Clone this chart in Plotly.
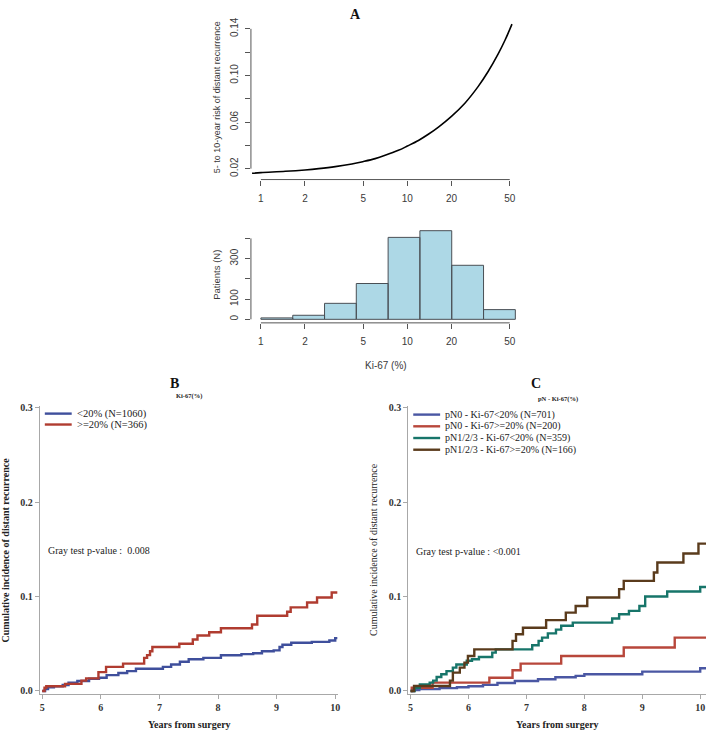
import plotly.graph_objects as go
import math

W, H = 709, 732

# ---------------- Panel A data ----------------
ki67_curve = [0.87, 1.0, 1.47, 2.0, 2.48, 3.22, 4.18, 4.96, 6.03, 7.05, 8.68, 10.0,
              11.9, 13.9, 16.3, 20.0, 24.7, 30.4, 35.6, 41.6, 46.4, 51.8]
risk_curve = [0.0160, 0.0166, 0.0177, 0.0189, 0.0200, 0.0217, 0.0240, 0.0260, 0.0286,
              0.0314, 0.0357, 0.0394, 0.0442, 0.0495, 0.0557, 0.0649, 0.0762, 0.0904,
              0.1034, 0.1183, 0.1302, 0.1440]
curve_xticks = [1, 2, 5, 10, 20, 50]
curve_yticks = [0.02, 0.04, 0.06, 0.08, 0.10, 0.12, 0.14]
curve_ytext = ["0.02", "", "0.06", "", "0.10", "", "0.14"]

hist_edges = [1.0, 1.65, 2.72, 4.48, 7.39, 12.18, 20.09, 33.12, 54.6]
hist_counts = [7, 20, 79, 177, 405, 438, 267, 48]
hist_yticks = [0, 100, 200, 300, 400]
hist_ytext = ["0", "100", "", "300", ""]

# ---------------- Panel B data ----------------
b_labels = ["<20% (N=1060)", ">=20% (N=366)"]
b_blue_t = [5.0, 5.05, 5.1, 5.2, 5.35, 5.45, 5.6, 5.8, 5.97, 6.1, 6.3, 6.45, 6.6, 7.06, 7.2,
            7.35, 7.5, 7.75, 8.05, 8.4, 8.6, 8.75, 8.95, 9.05, 9.1, 9.25, 9.6, 9.9, 10.0, 10.04]
b_blue_v = [0.0, 0.002, 0.004, 0.005, 0.0063, 0.0087, 0.0105, 0.013, 0.014, 0.0168, 0.019,
            0.021, 0.0235, 0.0255, 0.028, 0.031, 0.0336, 0.035, 0.0378, 0.039, 0.040, 0.042,
            0.043, 0.0465, 0.049, 0.051, 0.052, 0.0535, 0.056, 0.056]
b_red_t = [5.0, 5.04, 5.07, 5.39, 5.67, 5.75, 5.96, 6.09, 6.38, 6.74, 6.79, 6.84, 6.88, 7.34,
           7.57, 7.65, 7.85, 8.05, 8.58, 8.67, 9.18, 9.24, 9.52, 9.69, 9.94, 10.04]
b_red_v = [0.0, 0.0035, 0.005, 0.0075, 0.011, 0.0133, 0.02, 0.0255, 0.029, 0.035, 0.038,
           0.042, 0.0465, 0.05, 0.0545, 0.0587, 0.0622, 0.0664, 0.0703, 0.0797, 0.0839,
           0.0885, 0.0937, 0.099, 0.1042, 0.1042]

# ---------------- Panel C data ----------------
c_labels = ["pN0 - Ki-67<20% (N=701)", "pN0 - Ki-67>=20% (N=200)",
            "pN1/2/3 - Ki-67<20% (N=359)", "pN1/2/3 - Ki-67>=20% (N=166)"]
c_blue_t = [5.0, 5.05, 5.15, 5.5, 5.8, 6.0, 6.25, 6.5, 6.8, 7.2, 7.5, 7.85, 8.0, 9.0, 10.0, 10.1]
c_blue_v = [0.0, 0.001, 0.002, 0.003, 0.004, 0.005, 0.0065, 0.0085, 0.0105, 0.0125, 0.0145,
            0.016, 0.0177, 0.0205, 0.024, 0.024]
c_red_t = [5.0, 5.02, 5.38, 6.36, 6.76, 6.9, 7.6, 8.68, 9.56, 10.1]
c_red_v = [0.0, 0.0035, 0.0088, 0.014, 0.022, 0.029, 0.037, 0.046, 0.0565, 0.0565]
c_teal_t = [5.0, 5.07, 5.16, 5.33, 5.39, 5.45, 5.53, 5.62, 5.73, 5.79, 5.97, 6.06, 6.18,
            6.41, 6.47, 7.1, 7.21, 7.27, 7.37, 7.51, 7.6, 7.8, 8.48, 8.6, 8.77, 8.95, 9.05,
            9.43, 10.0, 10.1]
c_teal_v = [0.0, 0.0035, 0.007, 0.0088, 0.011, 0.0148, 0.0177, 0.021, 0.0247, 0.028, 0.032,
            0.0336, 0.036, 0.0406, 0.044, 0.0484, 0.053, 0.0565, 0.061, 0.065, 0.069, 0.0724,
            0.0767, 0.0813, 0.0848, 0.09, 0.1, 0.1053, 0.110, 0.110]
c_brown_t = [5.0, 5.06, 5.68, 5.73, 5.85, 5.93, 5.99, 6.1, 6.76, 6.82, 6.94, 7.34, 7.68,
             7.85, 8.05, 8.6, 8.68, 9.2, 9.26, 9.71, 9.97, 10.1]
c_brown_v = [0.0, 0.0053, 0.011, 0.0194, 0.0247, 0.03, 0.037, 0.044, 0.053, 0.06, 0.067,
             0.075, 0.083, 0.09, 0.099, 0.1078, 0.1166, 0.1254, 0.136, 0.1456, 0.156, 0.156]

km_ticks = [5, 6, 7, 8, 9, 10]
km_yticks = [0.0, 0.1, 0.2, 0.3]
km_ytext = ["0.0", "0.1", "0.2", "0.3"]

# ---------------- styles ----------------
SANS = "Liberation Sans, Arial, sans-serif"
SERIF = "Liberation Serif, Times New Roman, serif"
A_TXT = "#3a3a3a"
A_AX = "#555555"
KM_AX = "#a8a8a8"
KM_TXT = "#333333"
B_COLORS = ["#3f4f9c", "#b03c30"]
C_COLORS = ["#4a57a3", "#b8473b", "#17756a", "#5a3b1c"]


def fx(p):
    return p / W


def fy(p):
    return 1 - p / H


fig = go.Figure()

# Panel A curve
fig.add_trace(go.Scatter(x=ki67_curve, y=risk_curve, mode="lines",
                         line=dict(color="black", width=1.6, shape="spline", smoothing=1.0),
                         xaxis="x", yaxis="y", showlegend=False, hoverinfo="skip"))

# Histogram as polygons
hx, hy = [], []
for i, c in enumerate(hist_counts):
    x0, x1 = hist_edges[i], hist_edges[i + 1]
    hx += [x0, x0, x1, x1, x0, None]
    hy += [0, c, c, 0, 0, None]
fig.add_trace(go.Scatter(x=hx, y=hy, mode="lines", fill="toself", fillcolor="#add8e6",
                         line=dict(color="#4a4f55", width=1), xaxis="x2", yaxis="y2",
                         showlegend=False, hoverinfo="skip"))

# Panel B
for t, v, col in [(b_blue_t, b_blue_v, B_COLORS[0]), (b_red_t, b_red_v, B_COLORS[1])]:
    fig.add_trace(go.Scatter(x=t, y=v, mode="lines", line=dict(color=col, width=2.4, shape="hv"),
                             xaxis="x3", yaxis="y3", showlegend=False, hoverinfo="skip"))
# Panel C
for t, v, col in [(c_blue_t, c_blue_v, C_COLORS[0]), (c_red_t, c_red_v, C_COLORS[1]),
                  (c_teal_t, c_teal_v, C_COLORS[2]), (c_brown_t, c_brown_v, C_COLORS[3])]:
    fig.add_trace(go.Scatter(x=t, y=v, mode="lines", line=dict(color=col, width=2.4, shape="hv"),
                             xaxis="x4", yaxis="y4", showlegend=False, hoverinfo="skip"))

LOGR = [-0.068, 1.788]


def a_xaxis(dom, anchor):
    return dict(domain=dom, type="log", range=LOGR, anchor=anchor, showgrid=False,
                zeroline=False, showline=False, ticks="outside", ticklen=5, tickwidth=1,
                tickcolor=A_AX, tickvals=curve_xticks, ticktext=[str(v) for v in curve_xticks],
                tickfont=dict(family=SANS, size=10, color=A_TXT), ticklabelstandoff=4)


def a_yaxis(dom, anchor, rng, vals, text):
    return dict(domain=dom, range=rng, anchor=anchor, showgrid=False, zeroline=False,
                showline=False, ticks="outside", ticklen=5, tickwidth=1, tickcolor=A_AX,
                tickvals=vals, ticktext=text, tickangle=-90,
                tickfont=dict(family=SANS, size=10, color=A_TXT), ticklabelstandoff=3)


def km_xaxis(dom, anchor, rng):
    return dict(domain=dom, range=rng, anchor=anchor, showgrid=False, zeroline=False,
                showline=True, linecolor=KM_AX, linewidth=1, ticks="outside", ticklen=4,
                tickcolor=KM_AX, tickvals=km_ticks,
                tickfont=dict(family=SERIF, size=10, color=KM_TXT, weight="bold"))


def km_yaxis(dom, anchor, rng):
    return dict(domain=dom, range=rng, anchor=anchor, showgrid=False, zeroline=False,
                showline=True, linecolor=KM_AX, linewidth=1, ticks="outside", ticklen=4,
                tickcolor=KM_AX, tickvals=km_yticks, ticktext=km_ytext,
                tickfont=dict(family=SERIF, size=10, color=KM_TXT, weight="bold"))


fig.update_layout(
    width=W, height=H, margin=dict(l=0, r=0, t=0, b=0),
    paper_bgcolor="white", plot_bgcolor="rgba(0,0,0,0)",
    xaxis=a_xaxis([fx(252), fx(525)], "y"),
    yaxis=a_yaxis([fy(177), fy(14)], "x", [0.01064, 0.1494], curve_yticks, curve_ytext),
    xaxis2=a_xaxis([fx(252), fx(525)], "y2"),
    yaxis2=a_yaxis([fy(321.5), fy(225)], "x2", [-17.5, 455.5], hist_yticks, hist_ytext),
    xaxis3=km_xaxis([fx(40), fx(339)], "y3", [4.96, 10.04]),
    yaxis3=km_yaxis([fy(696), fy(405)], "x3", [-0.0035, 0.302]),
    xaxis4=km_xaxis([fx(410), fx(709)], "y4", [4.96, 10.1]),
    yaxis4=km_yaxis([fy(696), fy(405)], "x4", [-0.0035, 0.302]),
    showlegend=False,
)


def dom_frac(v):
    return (math.log10(v) - LOGR[0]) / (LOGR[1] - LOGR[0])


shapes = []
# Panel A axis lines (span tick range only, like R)
for xr, yr, ylo, yhi in [("x domain", "y", 0.02, 0.14), ("x2 domain", "y2", 0, 400)]:
    shapes.append(dict(type="line", xref=xr, yref=yr, x0=0, x1=0, y0=ylo, y1=yhi,
                       line=dict(color=A_AX, width=1)))
for xr, yr in [("x domain", "y domain"), ("x2 domain", "y2 domain")]:
    shapes.append(dict(type="line", xref=xr, yref=yr, x0=dom_frac(1), x1=dom_frac(50),
                       y0=0, y1=0, line=dict(color=A_AX, width=1)))

annotations = []

# Legends (manual, tight spacing)
for i, (lab, col) in enumerate(zip(b_labels, B_COLORS)):
    yy = 413 + i * 11
    shapes.append(dict(type="line", xref="paper", yref="paper", x0=fx(45), x1=fx(72),
                       y0=fy(yy), y1=fy(yy), line=dict(color=col, width=2.4)))
    annotations.append(dict(x=fx(75), y=fy(yy), xref="paper", yref="paper", text=lab,
                            showarrow=False, xanchor="left", yanchor="middle",
                            font=dict(family=SERIF, size=10.5, color="#222")))
for i, (lab, col) in enumerate(zip(c_labels, C_COLORS)):
    yy = 414 + i * 11.8
    shapes.append(dict(type="line", xref="paper", yref="paper", x0=fx(415), x1=fx(442),
                       y0=fy(yy), y1=fy(yy), line=dict(color=col, width=2.4)))
    annotations.append(dict(x=fx(445), y=fy(yy), xref="paper", yref="paper", text=lab,
                            showarrow=False, xanchor="left", yanchor="middle",
                            font=dict(family=SERIF, size=10, color="#222")))


def ann(x, y, text, size, family, color="#222", bold=False, angle=0, xanchor="center"):
    annotations.append(dict(x=fx(x), y=fy(y), xref="paper", yref="paper", text=text,
                            showarrow=False, xanchor=xanchor, yanchor="middle", textangle=angle,
                            font=dict(family=family, size=size, color=color,
                                      weight="bold" if bold else "normal")))


# Panel A texts
ann(357, 11, "A", 14, SERIF, "#111", bold=True)
ann(218, 94, "5- to 10-year risk of distant recurrence", 9, SANS, A_TXT, angle=-90)
ann(218, 273, "Patients (N)", 9.5, SANS, A_TXT, angle=-90)
ann(388, 364, "Ki-67 (%)", 10, SANS, A_TXT)

# Panel B texts
ann(175, 383, "B", 14, SERIF, "#111", bold=True)
ann(190, 395, "Ki-67(%)", 6.5, SERIF, "#222", bold=True)
ann(6, 550, "Cumulative incidence of distant recurrence", 10, SERIF, "#222", bold=True, angle=-90)
ann(190, 726, "Years from surgery", 10, SERIF, "#222", bold=True)
ann(46, 551, "Gray test p-value :  0.008", 10, SERIF, "#222", xanchor="left")

# Panel C texts
ann(538, 383, "C", 14, SERIF, "#111", bold=True)
ann(560, 398, "pN - Ki-67(%)", 6.5, SERIF, "#222", bold=True)
ann(375, 550, "Cumulative incidence of distant recurrence", 10, SERIF, "#222", angle=-90)
ann(560, 726, "Years from surgery", 10, SERIF, "#222", bold=True)
ann(416, 552, "Gray test p-value : <0.001", 10, SERIF, "#222", xanchor="left")

fig.update_layout(shapes=shapes, annotations=annotations)
fig.write_html("out.html", config={"displayModeBar": False},
               post_script="document.body.style.margin='0px';document.body.style.overflow='hidden';")
